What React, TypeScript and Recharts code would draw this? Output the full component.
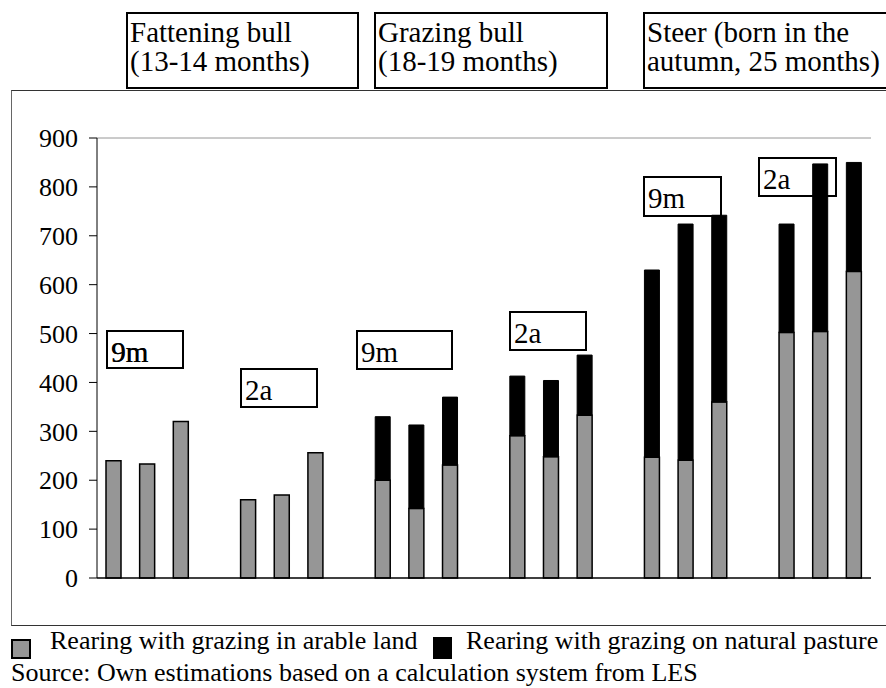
import React from 'react';
import { BarChart, Bar, XAxis, YAxis, ReferenceLine } from 'recharts';

// 6 groups of 3 bars, with an empty slot between groups
const categories = [
  'fb-9m-1', 'fb-9m-2', 'fb-9m-3', 'gap-1',
  'fb-2a-1', 'fb-2a-2', 'fb-2a-3', 'gap-2',
  'gb-9m-1', 'gb-9m-2', 'gb-9m-3', 'gap-3',
  'gb-2a-1', 'gb-2a-2', 'gb-2a-3', 'gap-4',
  'st-9m-1', 'st-9m-2', 'st-9m-3', 'gap-5',
  'st-2a-1', 'st-2a-2', 'st-2a-3',
];
const arableLand = [
  240, 233, 320, null,
  160, 170, 256, null,
  200, 142, 231, null,
  291, 248, 333, null,
  247, 241, 360, null,
  502, 504, 627,
];
const naturalPasture = [
  null, null, null, null,
  null, null, null, null,
  130, 171, 139, null,
  122, 156, 123, null,
  383, 483, 382, null,
  222, 343, 223,
];
const yTicks = [0, 100, 200, 300, 400, 500, 600, 700, 800, 900];

const groupTitles = [
  { lines: ['Fattening bull', '(13-14 months)'], left: 126, width: 227 },
  { lines: ['Grazing bull', '(18-19 months)'], left: 374, width: 228 },
  { lines: ['Steer (born in the', 'autumn, 25 months)'], left: 643, width: 260 },
];
const periodLabels = [
  { text: '9m', left: 106, top: 330, width: 78, height: 39, heavy: true },
  { text: '2a', left: 240, top: 368, width: 78, height: 40, heavy: false },
  { text: '9m', left: 356, top: 330, width: 97, height: 40, heavy: false },
  { text: '2a', left: 509, top: 311, width: 78, height: 40, heavy: false },
  { text: '9m', left: 643, top: 176, width: 79, height: 41, heavy: false },
  { text: '2a', left: 758, top: 157, width: 79, height: 40, heavy: false },
];

const data = categories.map((name, i) => ({
  name,
  arable: arableLand[i],
  pasture: naturalPasture[i],
}));

const FONT = '"Liberation Serif", "Times New Roman", serif';
const GREY = '#969696';

const App: React.FC = () => {
  return (
    <div style={{ position: 'absolute', left: 0, top: 0, width: 886, height: 688, overflow: 'hidden', background: '#fff', fontFamily: FONT, color: '#000' }}>
      {/* outer chart frame */}
      <div style={{ position: 'absolute', left: 11, top: 90, width: 900, height: 534, borderTop: '1px solid #333', borderLeft: '1px solid #666', borderBottom: '1px solid #333' }} />

      {groupTitles.map((g) => (
        <div key={g.lines[0]} style={{ position: 'absolute', left: g.left, top: 12, width: g.width, height: 69, border: '2px solid #000', background: '#fff', fontSize: 29, lineHeight: '29px', paddingLeft: 2, paddingTop: 4, boxSizing: 'content-box', whiteSpace: 'nowrap' }}>
          {g.lines.map((l) => <div key={l}>{l}</div>)}
        </div>
      ))}

      {periodLabels.map((p, i) => (
        <div key={i} style={{ position: 'absolute', left: p.left, top: p.top, width: p.width, height: p.height, border: '2px solid #000', background: '#fff', boxSizing: 'border-box', fontSize: 29, lineHeight: '29px', paddingLeft: 3, paddingTop: 6, textShadow: p.heavy ? '0.6px 0 0 #000' : undefined }}>
          {p.text}
        </div>
      ))}

      <div style={{ position: 'absolute', left: 0, top: 0 }}>
        <BarChart width={886} height={688} data={data} margin={{ top: 138, right: 15, bottom: 109, left: 0 }} barSize={15}>
          <XAxis dataKey="name" tick={false} tickLine={false} height={1} axisLine={{ stroke: '#000', strokeWidth: 1.5 }} />
          <YAxis
            domain={[0, 900]}
            ticks={yTicks}
            width={97}
            tickSize={8}
            tickMargin={11}
            axisLine={{ stroke: '#000' }}
            tickLine={{ stroke: '#000' }}
            tick={{ fill: '#000', fontSize: 26, fontFamily: FONT }}
          />
          <YAxis yAxisId="frame" orientation="right" domain={[0, 900]} width={0} tick={false} tickLine={false} axisLine={{ stroke: GREY }} />
          <ReferenceLine y={900} stroke={GREY} />
          <Bar dataKey="arable" stackId="a" fill={GREY} stroke="#000" strokeWidth={1.5} isAnimationActive={false} />
          <Bar dataKey="pasture" stackId="a" fill="#000" stroke="#000" strokeWidth={1} isAnimationActive={false} />
        </BarChart>
      </div>

      {/* legend */}
      <div style={{ position: 'absolute', left: 11, top: 639, width: 16, height: 16, border: '2px solid #000', background: GREY }} />
      <div style={{ position: 'absolute', left: 50, top: 626, fontSize: 26, whiteSpace: 'nowrap' }}>Rearing with grazing in arable land</div>
      <div style={{ position: 'absolute', left: 433, top: 637, width: 19, height: 22, background: '#000' }} />
      <div style={{ position: 'absolute', left: 466, top: 626, fontSize: 26, whiteSpace: 'nowrap' }}>Rearing with grazing on natural pasture</div>
      <div style={{ position: 'absolute', left: 11, top: 658, fontSize: 26, whiteSpace: 'nowrap' }}>Source: Own estimations based on a calculation system from LES</div>
    </div>
  );
};

export default App;
